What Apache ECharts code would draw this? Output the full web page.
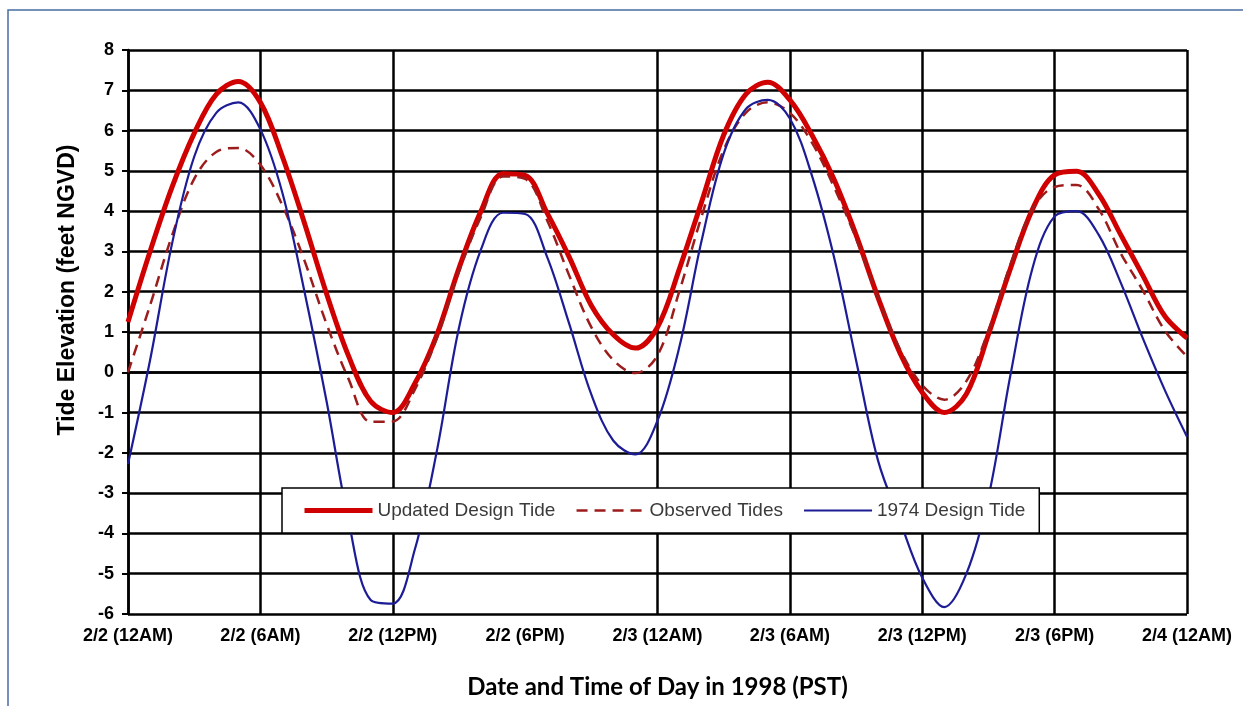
<!DOCTYPE html>
<html>
<head>
<meta charset="utf-8">
<title>Tide Elevation</title>
<script src="https://cdn.jsdelivr.net/npm/echarts@6/dist/echarts.min.js"></script>
<style>
  html, body { margin: 0; padding: 0; background: #fff; }
  #chart { width: 1243px; height: 706px; }
</style>
</head>
<body>
<div id="chart"></div>
<script>
// hours since 2/2 12AM (PST), one reading per hour
const hours = [
  0, 1, 2, 3, 4, 5, 6, 7, 8, 9, 10, 11, 12, 13, 14, 15, 16, 17, 18, 19, 20, 21, 22, 23, 24,
  25, 26, 27, 28, 29, 30, 31, 32, 33, 34, 35, 36, 37, 38, 39, 40, 41, 42, 43, 44, 45, 46, 47, 48
]
const tickLabels = [
  '2/2 (12AM)', '2/2 (6AM)', '2/2 (12PM)', '2/2 (6PM)', '2/3 (12AM)',
  '2/3 (6AM)', '2/3 (12PM)', '2/3 (6PM)', '2/4 (12AM)'
]
const updatedTide = [
  1.25, 3.0, 4.6, 5.93, 6.9, 7.22, 6.7, 5.35, 3.7, 1.95, 0.4, -0.72, -1.0,
  -0.28, 0.93, 2.58, 4.0, 4.93, 4.89, 3.95, 2.86, 1.66, 0.93, 0.6, 1.12,
  2.58, 4.23, 5.89, 6.9, 7.2, 6.76, 5.89, 4.79, 3.41, 1.85, 0.47, -0.5,
  -1.0, -0.54, 0.94, 2.58, 4.05, 4.9, 4.99, 4.42, 3.41, 2.4, 1.39, 0.85
]
const observedTides = [
  0.0, 1.66, 3.4, 4.8, 5.47, 5.57, 5.15, 4.14, 2.77, 1.2, -0.17, -1.23, -1.22,
  -0.43, 0.85, 2.5, 3.86, 4.86, 4.8, 3.77, 2.4, 1.12, 0.3, -0.02, 0.42,
  2.03, 3.87, 5.52, 6.44, 6.7, 6.44, 5.7, 4.6, 3.32, 1.85, 0.56, -0.32,
  -0.68, -0.22, 1.03, 2.68, 4.05, 4.6, 4.65, 4.05, 2.95, 2.03, 1.03, 0.39
]
const designTide1974 = [
  -2.28, 0.3, 3.2, 5.35, 6.44, 6.7, 6.03, 4.45, 2.0, -0.72, -3.7, -5.65, -5.74,
  -4.4, -1.95, 1.1, 3.05, 3.96, 3.93, 2.86, 1.2, -0.55, -1.7, -2.04, -1.2,
  0.65, 3.27, 5.43, 6.53, 6.76, 6.3, 4.88, 2.86, 0.3, -2.2, -3.7, -5.1,
  -5.83, -5.0, -3.1, -0.06, 2.59, 3.87, 4.0, 3.41, 2.22, 0.84, -0.45, -1.6
]

const pairs = vals => hours.map((h, i) => [h, vals[i]])

const myChart = echarts.init(document.getElementById('chart'))
const options = {
  animation: false,
  backgroundColor: '#fff',
  grid: { // 图表边距
    left: 128,
    right: 56,
    top: 50,
    bottom: 92
  },
  graphic: [
    { // outer frame
      type: 'rect',
      shape: { x: 8, y: 10, width: 1300, height: 800 },
      style: { fill: 'none', stroke: '#4a6da3', lineWidth: 1.5 },
      silent: true
    },
    {
      type: 'text',
      x: 68,
      y: 290,
      rotation: Math.PI / 2,
      style: {
        text: 'Tide Elevation (feet NGVD)',
        font: 'bold 23px "Liberation Sans", Arial, sans-serif',
        fill: '#000',
        textAlign: 'center',
        textVerticalAlign: 'middle'
      }
    }
  ],
  legend: {
    left: 282,
    top: 488,
    orient: 'horizontal',
    backgroundColor: '#fff',
    borderColor: '#000',
    borderWidth: 1.5,
    borderRadius: 0,
    padding: [13, 14, 13, 20],
    itemWidth: 68,
    itemHeight: 18,
    itemGap: 20,
    z: 10,
    itemStyle: { opacity: 0 }, // no marker dot, line only
    lineStyle: { width: 'inherit' },
    textStyle: {
      fontFamily: '"Liberation Sans", Arial, sans-serif',
      fontSize: 19,
      color: '#3a3a3a'
    },
    data: ['Updated Design Tide', 'Observed Tides', '1974 Design Tide']
  },
  xAxis: {
    type: 'value',
    min: 0,
    max: 48,
    interval: 6,
    name: 'Date and Time of Day in 1998 (PST)',
    nameLocation: 'middle',
    nameGap: 61,
    nameTextStyle: {
      fontFamily: 'Lato, "Open Sans", sans-serif',
      fontWeight: 'bold',
      fontSize: 24,
      color: '#000'
    },
    axisLine: { lineStyle: { color: '#000', width: 2.5 } },
    axisTick: { show: false },
    axisLabel: {
      margin: 13,
      color: '#000',
      fontWeight: 'bold',
      fontSize: 18,
      fontFamily: '"Liberation Sans", Arial, sans-serif',
      formatter: v => tickLabels[v / 6]
    },
    splitLine: { // 2/2 (6PM) line is not drawn in the original
      show: true,
      lineStyle: {
        width: 2.5,
        color: ['#000', '#000', '#000', 'rgba(0,0,0,0)', '#000', '#000', '#000', '#000', '#000']
      }
    }
  },
  yAxis: {
    type: 'value',
    min: -6,
    max: 8,
    interval: 1,
    axisLine: { show: true, lineStyle: { color: '#000', width: 2.5 } },
    axisTick: { show: true, length: 6, lineStyle: { color: '#000', width: 2 } },
    axisLabel: {
      margin: 14,
      color: '#000',
      fontWeight: 'bold',
      fontSize: 18,
      fontFamily: '"Liberation Sans", Arial, sans-serif'
    },
    splitLine: { show: true, lineStyle: { color: '#000', width: 2.5 } }
  },
  series: [
    {
      name: 'Updated Design Tide',
      type: 'line',
      data: pairs(updatedTide),
      smooth: 0.35,
      showSymbol: false,
      symbol: 'none',
      lineStyle: { color: '#d00000', width: 5 },
      itemStyle: { color: '#d00000' }
    },
    {
      name: 'Observed Tides',
      type: 'line',
      data: pairs(observedTides),
      smooth: 0.35,
      showSymbol: false,
      symbol: 'none',
      lineStyle: { color: '#9c1c1c', width: 2.5, type: [11, 7] },
      itemStyle: { color: '#9c1c1c' }
    },
    {
      name: '1974 Design Tide',
      type: 'line',
      data: pairs(designTide1974),
      smooth: 0.35,
      showSymbol: false,
      symbol: 'none',
      lineStyle: { color: '#1c1c96', width: 2.2 },
      itemStyle: { color: '#1c1c96' }
    }
  ]
}
myChart.setOption(options)
window.addEventListener('resize', () => myChart.resize())
</script>
</body>
</html>
